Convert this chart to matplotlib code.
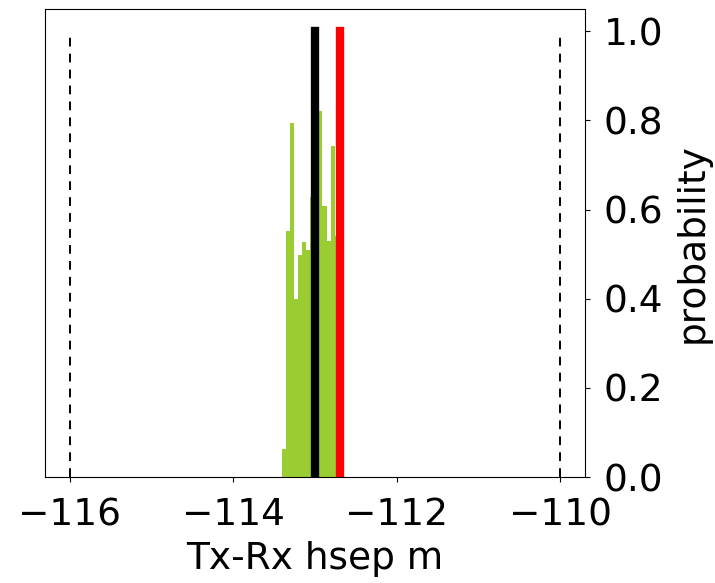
import numpy as np
import matplotlib
matplotlib.use("Agg")
import matplotlib.pyplot as plt

# histogram bin left edges (Tx-Rx hsep, m) and normalized heights
bin_start = -113.408
bin_width = 0.05
probabilities = [0.0625, 0.552, 0.795, 0.40, 0.497, 0.527, 0.509,
                 0.628, 1.0, 0.82, 0.607, 0.53, 0.742, 0.54]
bin_edges = [bin_start + bin_width * i for i in range(len(probabilities) + 1)]

prior_bounds = [-116.0, -110.0]   # dashed lines
true_value = -112.69               # red line
estimate_value = -113.0            # black line

fig = plt.figure(figsize=(7.15, 5.83), dpi=100)
ax = fig.add_axes([0.0629, 0.1818, 0.755, 0.8028])

ax.hist(bin_edges[:-1], bins=bin_edges, weights=probabilities,
        color="yellowgreen")
for b in prior_bounds:
    ax.plot([b, b], [0, 1], color="black", linestyle=(0, (4.5, 3.7)), lw=1.4)
ax.plot([estimate_value, estimate_value], [0, 1], color="black", lw=6)
ax.plot([true_value, true_value], [0, 1], color="red", lw=6)

ax.set_xlim(-116.3, -109.7)
ax.set_ylim(0, 1.05)
ax.set_xticks([-116, -114, -112, -110])
ax.set_yticks([0.0, 0.2, 0.4, 0.6, 0.8, 1.0])
ax.yaxis.tick_right()
ax.yaxis.set_label_position("right")
ax.tick_params(labelsize=27)
ax.tick_params(axis="x", pad=11)
ax.tick_params(axis="y", pad=10)
ax.set_xlabel("Tx-Rx hsep m", fontsize=27, labelpad=6)
ax.set_ylabel("probability", fontsize=27, labelpad=8)

fig.savefig("out.png", dpi=100)
